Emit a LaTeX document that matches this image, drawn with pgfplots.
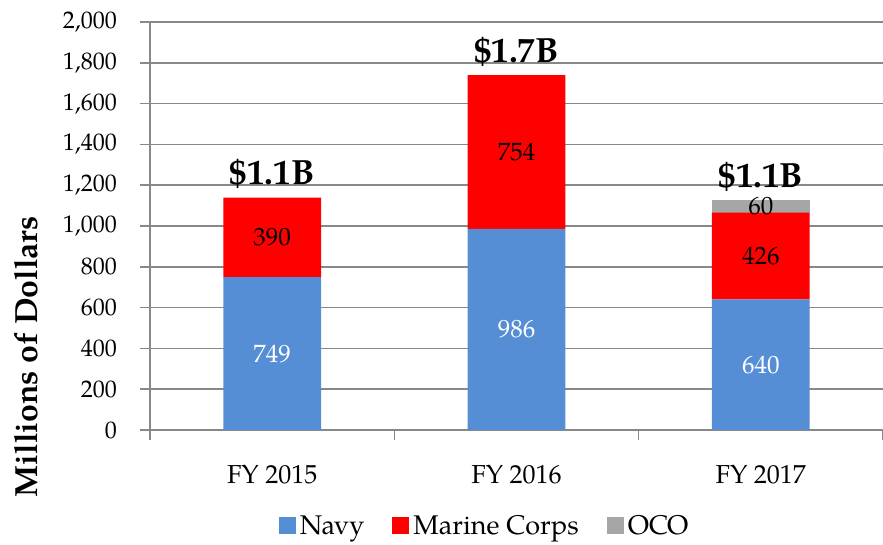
\documentclass[border=0pt]{standalone}
\usepackage{fontspec}
\setmainfont{TeX Gyre Pagella}
\usepackage{pgfplots}
\pgfplotsset{compat=1.18}
\definecolor{navy}{HTML}{558ED5}
\definecolor{marine}{HTML}{FF0000}
\definecolor{oco}{HTML}{A6A6A6}
\definecolor{gridgray}{HTML}{888888}
\pgfplotsset{
  frame/.style={
    scale only axis,
    width=366.5pt, height=204pt,
    xmin=-0.5, xmax=2.5,
    ymin=0, ymax=2000,
  },
}
\begin{document}
\begin{tikzpicture}
  \begin{axis}[
      frame,
      ybar stacked, bar width=0.4,
      xtick={0,1,2},
      xticklabels={FY 2015,FY 2016,FY 2017},
      minor xtick={-0.5,0.5,1.5,2.5},
      major x tick style={draw=none},
      minor tick length=5pt,
      ytick={0,200,...,2000},
      major tick length=5pt,
      tick align=outside,
      tick style={gridgray, line width=0.75pt},
      ymajorgrids,
      major grid style={gridgray, line width=0.75pt},
      axis x line*=bottom, axis y line*=left,
      hide obscured x ticks=false, hide obscured y ticks=false,
      axis line style={gridgray, line width=0.75pt},
      y axis line style={-}, x axis line style={-},
      yticklabel style={font=\fontsize{12}{14}\selectfont, xshift=-8pt},
      xticklabel style={font=\fontsize{13}{15}\selectfont, yshift=-9pt},
      /pgf/number format/assume math mode=true,
      /pgf/number format/1000 sep={,},
      ylabel={\textbf{Millions of Dollars}},
      ylabel style={font=\fontsize{16}{18}\selectfont,
        at={(rel axis cs:-0.143,0.18)}, anchor=south},
      legend style={at={(0.458,-0.236)}, anchor=center, draw=none,
        legend columns=3, font=\fontsize{13.5}{15}\selectfont,
        /tikz/every even column/.append style={column sep=12pt}},
      legend image code/.code={\fill[#1] (0pt,-3.8pt) rectangle (8.5pt,4.4pt);},
      nodes near coords,
      every node near coord/.style={anchor=center,
        font=\fontsize{12.5}{14}\selectfont},
    ]
    \addplot[fill=navy, draw=none,
      every node near coord/.append style={text=white}]
      coordinates {(0,749) (1,986) (2,640)};
    \addplot[fill=marine, draw=none]
      coordinates {(0,390) (1,754) (2,426)};
    \addplot[fill=oco, draw=none,
      nodes near coords={\pgfplotspointmeta},
      point meta=explicit symbolic]
      coordinates {(0,0) [] (1,0) [] (2,60) [60]};
    \legend{Navy,Marine Corps,OCO}
  \end{axis}
  % totals above the bars
  \begin{axis}[
      frame, hide axis,
      nodes near coords={\pgfplotspointmeta},
      point meta=explicit symbolic,
      every node near coord/.style={anchor=base, yshift=6.5pt,
        font=\fontsize{17.5}{19}\selectfont\bfseries},
    ]
    \addplot[only marks, mark=none]
      coordinates {(0,1139) [\$1.1B] (1,1740) [\$1.7B] (2,1126) [\$1.1B]};
  \end{axis}
  \pgfresetboundingbox
  \path[use as bounding box]
    ([xshift=-75pt,yshift=-57.5pt]current axis.south west)
    rectangle ([yshift=11pt]current axis.north east);
\end{tikzpicture}
\end{document}
